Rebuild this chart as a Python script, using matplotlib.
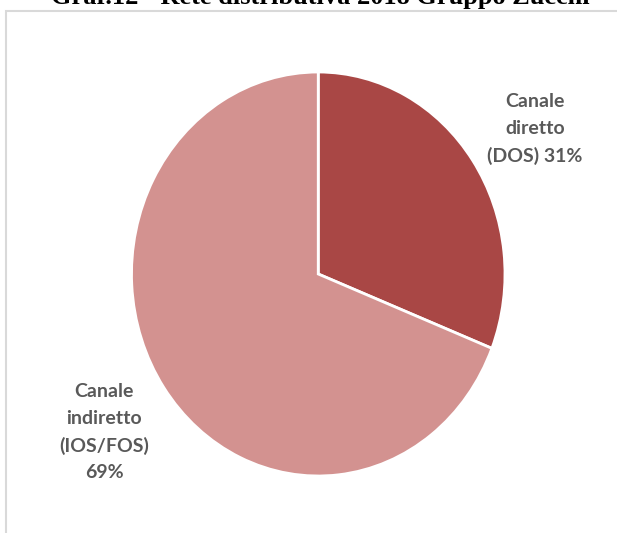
import matplotlib
matplotlib.use("Agg")
import matplotlib.pyplot as plt
from matplotlib.patches import Rectangle

# Rete distributiva 2018
labels = ["Canale\ndiretto\n(DOS) 31%", "Canale\nindiretto\n(IOS/FOS)\n69%"]
values = [31, 69]
colors = ["#A94745", "#D39290"]
title = "Graf.12 - Rete distributiva 2018 Gruppo Zucchi"

W, H = 617, 533
fig = plt.figure(figsize=(W / 100, H / 100), dpi=100)

# cornice grigia del grafico
fig.patches.append(Rectangle((6 / W, -0.1), 1.2, (H - 11) / H + 0.1,
                             transform=fig.transFigure, facecolor="none",
                             edgecolor="#D9D9D9", linewidth=1.5, zorder=-1))

# titolo (tagliato in alto)
fig.text(320 / W, (H - 4) / H, title, ha="center", va="baseline",
         fontsize=19, fontweight="bold", family="Liberation Serif", color="black")

# area della torta in pixel: leggermente ellittica
left, right, top, bottom = 131.5, 505, 72, 476
ax = fig.add_axes([left / W, (H - bottom) / H, (right - left) / W, (bottom - top) / H])
ax.pie(values, colors=colors, startangle=90, counterclock=False, radius=1,
       wedgeprops=dict(edgecolor="white", linewidth=2))
ax.set_aspect("auto")
ax.set_xlim(-1, 1)
ax.set_ylim(-1, 1)
ax.axis("off")

label_kw = dict(ha="center", va="top", fontsize=14, fontweight="bold",
                family="Lato", color="#595959", linespacing=1.68)
fig.text(535 / W, (H - 93) / H, labels[0], **label_kw)
fig.text(104 / W, (H - 383) / H, labels[1], **label_kw)

fig.savefig("out.png", dpi=100)
